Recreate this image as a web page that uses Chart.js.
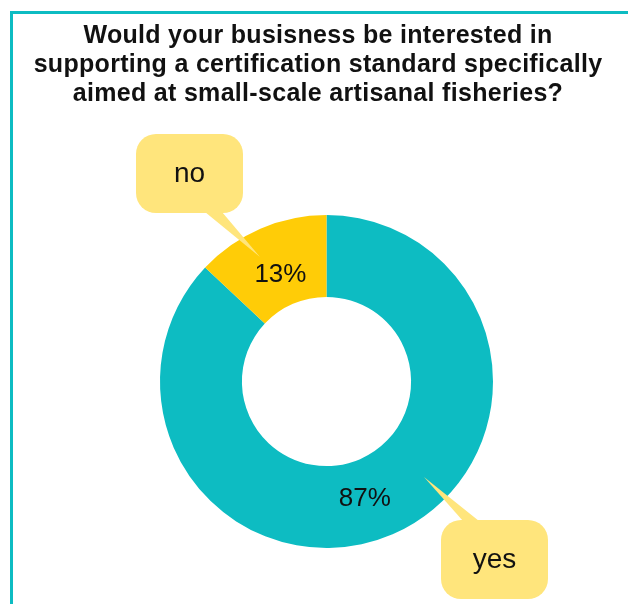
<!DOCTYPE html>
<html>
<head>
<meta charset="utf-8">
<script src="https://cdn.jsdelivr.net/npm/chart.js@4"></script>
<style>
  html, body { margin: 0; padding: 0; background: #ffffff; }
  #wrap { position: relative; width: 628px; height: 604px; overflow: hidden; }
  #frame {
    position: absolute; left: 10px; top: 11px; right: -5px; bottom: -5px;
    border-top: 3px solid #0DBCC2; border-left: 3px solid #0DBCC2;
  }
  canvas { position: absolute; left: 0; top: 0; }
</style>
</head>
<body>
<div id="wrap">
  <div id="frame"></div>
  <canvas id="c" width="628" height="604"></canvas>
</div>
<script>
// Survey answers and their shares (percent)
const categories = ['yes', 'no'];
const shares = [87, 13];
const titleLines = [
  'Would your busisness be interested in',
  'supporting a certification standard specifically',
  'aimed at small-scale artisanal fisheries?'
];

const sliceColors = ['#0DBCC2', '#FFCC07'];
const bubbleColor = '#FFE57C';
const textFont = '"Liberation Sans", Arial, Helvetica, sans-serif';

// Callout bubble placement, relative to the doughnut centre
const callouts = [
  { bubble: [168, 178], tail: { edge: 'top', from: -31.5, to: -15.5 }, tip: [97.5, 95.5] },
  { bubble: [-137, -208], tail: { edge: 'bottom', from: 15.5, to: 32.5 }, tip: [-66.5, -124.5] }
];
// Percentage label placement: radius fraction and angle shift (degrees)
const pctPlacement = [
  { r: 0.742, shift: 5.3 },
  { r: 0.697, shift: 0 }
];

function roundRect(ctx, x, y, w, h, r) {
  ctx.moveTo(x + r, y);
  ctx.lineTo(x + w - r, y);
  ctx.arcTo(x + w, y, x + w, y + r, r);
  ctx.lineTo(x + w, y + h - r);
  ctx.arcTo(x + w, y + h, x + w - r, y + h, r);
  ctx.lineTo(x + r, y + h);
  ctx.arcTo(x, y + h, x, y + h - r, r);
  ctx.lineTo(x, y + r);
  ctx.arcTo(x, y, x + r, y, r);
  ctx.closePath();
}

const decorations = {
  id: 'decorations',
  afterDatasetsDraw(chart) {
    const ctx = chart.ctx;
    const meta = chart.getDatasetMeta(0);
    const total = shares.reduce((a, b) => a + b, 0);

    ctx.save();
    // Percent labels inside each slice
    meta.data.forEach((arc, i) => {
      const p = arc.getProps(['x', 'y', 'startAngle', 'endAngle', 'outerRadius'], true);
      const mid = (p.startAngle + p.endAngle) / 2 + pctPlacement[i].shift * Math.PI / 180;
      const r = p.outerRadius * pctPlacement[i].r;
      ctx.fillStyle = '#111111';
      ctx.font = '26px ' + textFont;
      ctx.textAlign = 'center';
      ctx.textBaseline = 'middle';
      const pct = Math.round(shares[i] / total * 100);
      ctx.fillText(pct + '%', p.x + Math.cos(mid) * r, p.y + Math.sin(mid) * r);
    });

    // Speech-bubble callouts naming each answer
    const cx = meta.data[0].x, cy = meta.data[0].y;
    const bw = 107, bh = 79, br = 20;
    categories.forEach((name, i) => {
      const c = callouts[i];
      const bx = cx + c.bubble[0] - bw / 2;
      const by = cy + c.bubble[1] - bh / 2;
      const ey = c.tail.edge === 'top' ? by + 1 : by + bh - 1;
      ctx.fillStyle = bubbleColor;
      ctx.beginPath();
      roundRect(ctx, bx, by, bw, bh, br);
      ctx.fill();
      ctx.beginPath();
      ctx.moveTo(cx + c.bubble[0] + c.tail.from, ey);
      ctx.lineTo(cx + c.tip[0], cy + c.tip[1]);
      ctx.lineTo(cx + c.bubble[0] + c.tail.to, ey);
      ctx.closePath();
      ctx.fill();
      ctx.fillStyle = '#111111';
      ctx.font = '28px ' + textFont;
      ctx.textAlign = 'center';
      ctx.textBaseline = 'middle';
      ctx.fillText(name, cx + c.bubble[0], cy + c.bubble[1] + 1);
    });

    // Heading
    ctx.fillStyle = '#111111';
    ctx.font = 'bold 25px ' + textFont;
    ctx.letterSpacing = '0.3px';
    ctx.textAlign = 'center';
    ctx.textBaseline = 'alphabetic';
    titleLines.forEach((line, k) => ctx.fillText(line, 318, 43 + k * 28.8));
    ctx.restore();
  }
};

new Chart(document.getElementById('c'), {
  type: 'doughnut',
  data: {
    labels: categories,
    datasets: [{
      data: shares,
      backgroundColor: sliceColors,
      borderWidth: 0,
      hoverOffset: 0
    }]
  },
  options: {
    responsive: false,
    animation: false,
    cutout: '50.8%',
    rotation: 0,
    layout: { padding: { top: 215, bottom: 56, left: 160, right: 135 } },
    plugins: {
      legend: { display: false },
      tooltip: { enabled: false },
      title: { display: false }
    }
  },
  plugins: [decorations]
});
</script>
</body>
</html>
